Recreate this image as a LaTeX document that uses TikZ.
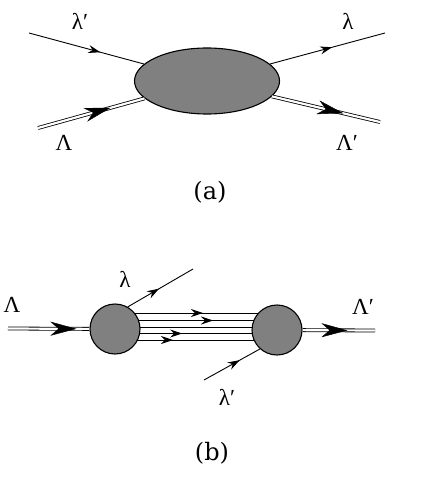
\documentclass[tikz,border=0pt]{standalone}
\usepackage{fontspec}
\setmainfont{Liberation Serif}
\newfontfamily\capfont{DejaVu Serif}
\usetikzlibrary{arrows.meta,decorations.markings,backgrounds,shapes.geometric,calc}
\definecolor{blobgray}{RGB}{128,128,128}
\begin{document}
\begin{tikzpicture}[x=1pt,y=-1pt,
  blob/.style={draw=black, line width=1.1pt, fill=blobgray},
  thinline/.style={line width=0.9pt},
  dbl/.style={double=white, double distance=2.2pt, line width=0.8pt},
  lbl/.style={font=\fontsize{23}{23}\selectfont, inner sep=0pt},
  captext/.style={font=\capfont\fontsize{24}{24}\selectfont, inner sep=0pt},
  midarrow/.style={postaction={decorate}, decoration={markings,
     mark=at position #1 with {\arrow{Stealth[length=12pt,width=8pt,inset=4pt]}}}},
  bigarrow/.style={decorate, decoration={markings,
     mark=at position #1 with {\arrow{Stealth[length=26pt,width=14pt,inset=8pt]}}}}
]
\useasboundingbox (0,0) rectangle (420,478);
% ---------- (a)
\node[blob, ellipse, minimum width=145pt, minimum height=66pt, inner sep=0pt] (E) at (207,81) {};
\coordinate (a1) at (29,33);
\coordinate (a2) at (385,33);
\coordinate (a3) at (38,128);
\coordinate (a4) at (380,122);
\draw[thinline, midarrow=0.62] (a1) -- (E);
\draw[thinline, midarrow=0.54] (E) -- (a2);
\draw[dbl] (a3) -- (E);
\path[bigarrow=0.68] (a3) -- (E);
\draw[dbl] (E) -- (a4);
\path[bigarrow=0.66] (E) -- (a4);
\node[lbl] (la1) at (80,21) {λ′};
\node[lbl] (la2) at (348,21) {λ};
\node[lbl] (la3) at (64,143) {Λ};
\node[lbl] (la4) at (347,143) {Λ′};
\node[captext] (capa) at (210,192) {(a)};
% ---------- (b)
\node[blob, circle, minimum size=50pt, inner sep=0pt] (L) at (115,329) {};
\node[blob, circle, minimum size=50pt, inner sep=0pt] (R) at (277,330) {};
\begin{pgfonlayer}{background}
  \draw[thinline, midarrow=0.543] ($(L.center)+(0,-16)$) -- ($(R.center)+(0,-17)$);
  \draw[thinline, midarrow=0.605] ($(L.center)+(0,-8.5)$) -- ($(R.center)+(0,-9.5)$);
  \draw[thinline] ($(L.center)+(0,-2)$) -- ($(R.center)+(0,-3)$);
  \draw[thinline, midarrow=0.414] ($(L.center)+(0,4.5)$) -- ($(R.center)+(0,3.5)$);
  \draw[thinline, midarrow=0.358] ($(L.center)+(0,11)$) -- ($(R.center)+(0,10)$);
\end{pgfonlayer}
\coordinate (b1) at (8,328.5);
\coordinate (b2) at (375,330.5);
\coordinate (b3) at (193,269);
\coordinate (b4) at (204,380);
\draw[dbl] (b1) -- (L);
\path[bigarrow=0.84] (b1) -- (L);
\draw[dbl] (R) -- (b2);
\path[bigarrow=0.62] (R) -- (b2);
\draw[thinline, midarrow=0.48] (L.60) -- (b3);
\draw[thinline, midarrow=0.64] (b4) -- (R.228);
\node[lbl] (lb1) at (12,305) {Λ};
\node[lbl] (lb2) at (363,307) {Λ′};
\node[lbl] (lb3) at (125,279) {λ};
\node[lbl] (lb4) at (227,397) {λ′};
\node[captext] (capb) at (212,453) {(b)};
\end{tikzpicture}
\end{document}
